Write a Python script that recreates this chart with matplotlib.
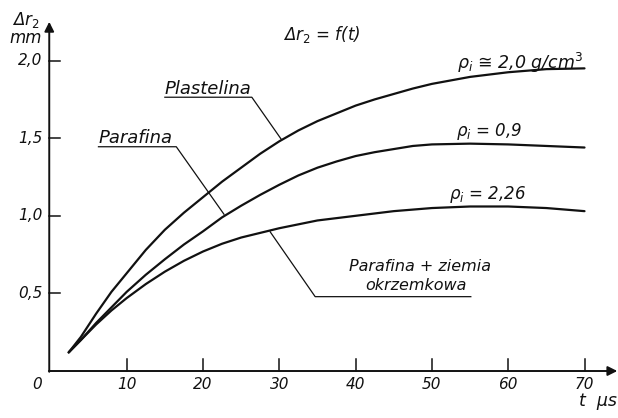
import matplotlib
matplotlib.use("Agg")
import matplotlib.pyplot as plt
from matplotlib import font_manager as fm

# ---- data ----
t_us = [2.4, 4, 6, 8, 10, 12.5, 15, 17.5, 20, 22.5, 25, 27.5, 30, 32.5, 35, 37.5,
        40, 42.5, 45, 47.5, 50, 55, 60, 65, 70]
plastelina = [0.12, 0.22, 0.37, 0.51, 0.63, 0.78, 0.91, 1.02, 1.12, 1.22, 1.31, 1.40,
              1.48, 1.55, 1.61, 1.66, 1.71, 1.75, 1.785, 1.82, 1.85, 1.895, 1.925, 1.945, 1.95]
parafina = [0.12, 0.20, 0.31, 0.41, 0.51, 0.62, 0.72, 0.815, 0.90, 0.99, 1.065, 1.135,
            1.20, 1.26, 1.31, 1.35, 1.385, 1.41, 1.43, 1.45, 1.46, 1.465, 1.46, 1.45, 1.44]
parafina_ziemia = [0.12, 0.20, 0.30, 0.39, 0.47, 0.56, 0.64, 0.71, 0.77, 0.82, 0.86, 0.89,
                   0.92, 0.945, 0.97, 0.985, 1.00, 1.015, 1.03, 1.04, 1.05, 1.06, 1.06, 1.05, 1.03]

xticks = [10, 20, 30, 40, 50, 60, 70]
yticks = [0.5, 1.0, 1.5, 2.0]
ytick_labels = ["0,5", "1,0", "1,5", "2,0"]

# ---- font ----
avail = {f.name for f in fm.fontManager.ttflist}
fam = ["Liberation Sans Narrow", "DejaVu Sans"] if "Liberation Sans Narrow" in avail else ["DejaVu Sans"]
TXT = dict(family=fam, style="italic", color="#111111")

fig = plt.figure(figsize=(6.18, 4.18), dpi=100)
ax = fig.add_axes([0, 0, 1, 1])
ax.set_xlim(-6.605, 74.39)
ax.set_ylim(-0.3028, 2.3905)
ax.axis("off")

K = "#111111"
# axes with arrows
ax.annotate("", xy=(74.3, 0), xytext=(-0.2, 0),
            arrowprops=dict(arrowstyle="-|>", color=K, lw=1.4, mutation_scale=14, shrinkA=0, shrinkB=0))
ax.annotate("", xy=(-0.15, 2.25), xytext=(-0.15, -0.005),
            arrowprops=dict(arrowstyle="-|>", color=K, lw=1.4, mutation_scale=14, shrinkA=0, shrinkB=0))

# ticks
for xt in xticks:
    ax.plot([xt, xt], [0, 0.075], color=K, lw=1.1)
    ax.text(xt, -0.09, str(xt), ha="center", va="center", fontsize=11, **TXT)
ax.text(-1.7, -0.09, "0", ha="center", va="center", fontsize=11, **TXT)
for yt, lab in zip(yticks, ytick_labels):
    ax.plot([-0.15, 1.2], [yt, yt], color=K, lw=1.1)
    ax.text(-1.0, yt, lab, ha="right", va="center", fontsize=11, **TXT)

# axis labels
ax.text(-3.2, 2.229, "Δr$_2$", ha="center", va="baseline", fontsize=12, **TXT)
ax.text(-3.2, 2.113, "mm", ha="center", va="baseline", fontsize=12, **TXT)
ax.text(71.8, -0.193, "t  μs", ha="center", va="center", fontsize=12.5, **TXT)
ax.text(35.6, 2.165, "Δr$_2$ = f(t)", ha="center", va="center", fontsize=12, **TXT)

# curves
for ys in (plastelina, parafina, parafina_ziemia):
    ax.plot(t_us, ys, color=K, lw=1.6, solid_capstyle="round", solid_joinstyle="round")

# leaders and labels
LW = 0.9
ax.plot([15.0, 26.4, 30.3], [1.764, 1.764, 1.49], color=K, lw=LW)
ax.text(20.7, 1.785, "Plastelina", ha="center", va="baseline", fontsize=13, **TXT)

ax.plot([6.3, 16.5, 22.75], [1.445, 1.445, 1.01], color=K, lw=LW)
ax.text(11.2, 1.47, "Parafina", ha="center", va="baseline", fontsize=13, **TXT)

ax.plot([28.8, 34.7, 55.1], [0.897, 0.479, 0.479], color=K, lw=LW)
ax.text(48.4, 0.672, "Parafina + ziemia", ha="center", va="center", fontsize=11.5, **TXT)
ax.text(47.9, 0.554, "okrzemkowa", ha="center", va="center", fontsize=11.5, **TXT)

ax.text(61.5, 1.945, "ρ$_\\mathregular{i}$ ≅ 2,0 g/cm$^3$", ha="center", va="baseline", fontsize=12.5, **TXT)
ax.text(57.5, 1.545, "ρ$_\\mathregular{i}$ = 0,9", ha="center", va="center", fontsize=12, **TXT)
ax.text(57.3, 1.14, "ρ$_\\mathregular{i}$ = 2,26", ha="center", va="center", fontsize=12, **TXT)

fig.savefig("out.png", dpi=100)
